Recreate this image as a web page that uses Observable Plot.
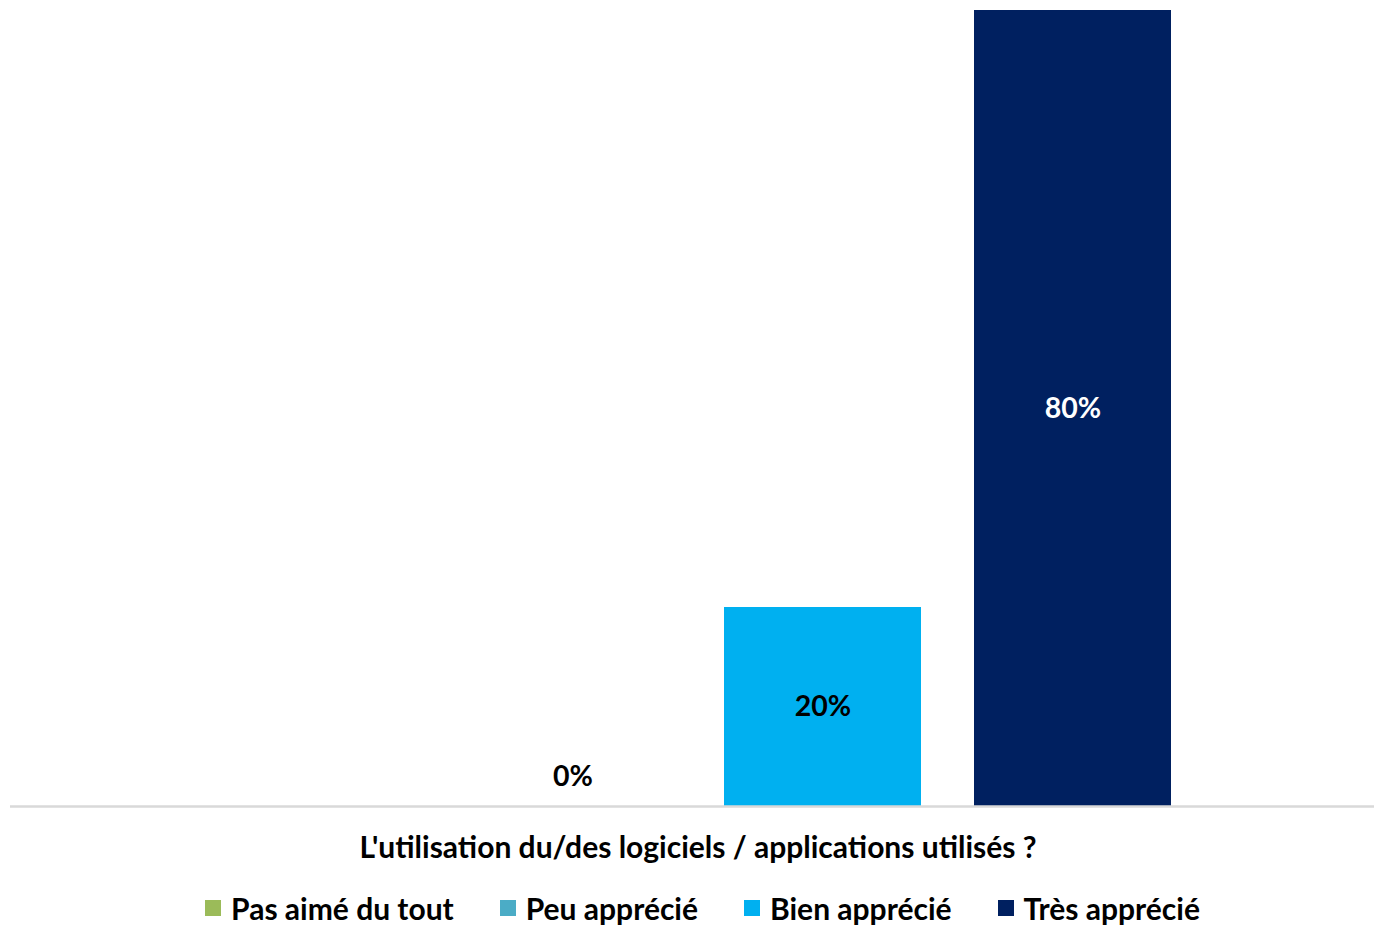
<!DOCTYPE html>
<html>
<head>
<meta charset="utf-8">
<script src="https://cdn.jsdelivr.net/npm/d3@7"></script>
<script src="https://cdn.jsdelivr.net/npm/@observablehq/plot@0.6"></script>
<style>
  html, body { margin: 0; padding: 0; background: #fff; }
  body { width: 1374px; height: 927px; overflow: hidden; font-family: Lato, "Open Sans", sans-serif; }
  #legend { display: flex; justify-content: center; align-items: center; gap: 46px; font-weight: 700; font-size: 30px; color: #000; margin-top: 20px; padding-left: 31px; }
  #legend .item { display: flex; align-items: center; gap: 10px; }
  #legend .sw { width: 16px; height: 16px; display: inline-block; }
</style>
</head>
<body>
<div id="chart"></div>
<div id="legend"></div>
<script>
const categories = ["L'utilisation du/des logiciels / applications utilisés ?"];
const series = ["Pas aimé du tout", "Peu apprécié", "Bien apprécié", "Très apprécié"];
const values = [null, 0, 20, 80];
const colors = ["#9bbb59", "#4bacc6", "#00b0f0", "#002060"];
const labelColors = ["#000", "#000", "#000", "#fff"];

const data = series.map((s, i) => ({series: s, value: values[i], category: categories[0]}));
const defined = data.filter(d => d.value != null);

const chart = Plot.plot({
  width: 1374,
  height: 870,
  marginTop: 10,
  marginBottom: 64,
  marginLeft: 10,
  marginRight: 0,
  style: {fontFamily: "Lato, 'Open Sans', sans-serif", background: "#fff"},
  x: {domain: series, range: [224, 1171], paddingInner: 0.212, paddingOuter: 0, axis: null},
  y: {domain: [0, 80], axis: null},
  color: {domain: series, range: colors},
  marks: [
    Plot.barY(defined, {x: "series", y: "value", fill: "series"}),
    Plot.ruleY([0], {stroke: "#d9d9d9", strokeWidth: 2.5}),
    Plot.text(defined.filter(d => d.value > 0), {
      x: "series", y: d => d.value / 2, text: d => d.value + "%",
      fill: d => labelColors[series.indexOf(d.series)],
      fontSize: 28.5, fontWeight: 700
    }),
    Plot.text(defined.filter(d => d.value === 0), {
      x: "series", y: "value", text: d => d.value + "%",
      fill: "#000", fontSize: 28.5, fontWeight: 700, dy: -30
    }),
    Plot.text(categories, {
      frameAnchor: "bottom", text: d => d, dy: 51, dx: 5.5,
      fontSize: 30, fontWeight: 700, fill: "#000"
    })
  ]
});
document.getElementById("chart").appendChild(chart);

const legend = document.getElementById("legend");
series.forEach((s, i) => {
  const item = document.createElement("div");
  item.className = "item";
  const sw = document.createElement("span");
  sw.className = "sw";
  sw.style.background = colors[i];
  const t = document.createElement("span");
  t.textContent = s;
  item.appendChild(sw);
  item.appendChild(t);
  legend.appendChild(item);
});
</script>
</body>
</html>
